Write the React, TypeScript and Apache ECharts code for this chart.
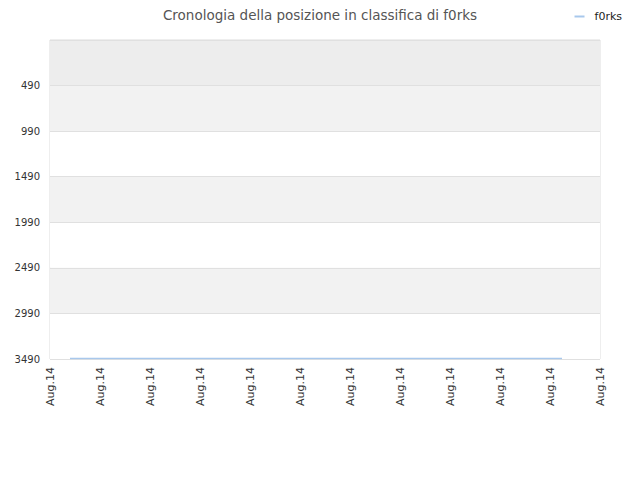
import { useEffect, useRef } from "react";
import * as echarts from "echarts";

const seriesName = "f0rks";
const xTickLabel = "Aug.14";
const xPositions = [0.4, 10.24];
const rankValues = [3485, 3485];
const bandColors = ["#ededed", "#f2f2f2", "#ffffff", "#f2f2f2", "#ffffff", "#f2f2f2", "#ffffff"];

export default function App() {
  const chartRef = useRef<HTMLDivElement>(null);

  useEffect(() => {
    if (!chartRef.current) return;
    const chart = echarts.init(chartRef.current, undefined, { renderer: "svg" });

    const font = "DejaVu Sans, sans-serif";

    chart.setOption({
      animation: false,
      backgroundColor: "#ffffff",
      title: {
        text: "Cronologia della posizione in classifica di f0rks",
        left: "center",
        top: 3,
        textStyle: { fontFamily: font, fontSize: 13.5, fontWeight: "normal", color: "#555" },
      },
      legend: {
        right: 13,
        top: 6,
        itemWidth: 10,
        itemHeight: 2,
        icon: "rect",
        textStyle: { fontFamily: font, fontSize: 11, color: "#222", padding: [0, 0, 0, 5] },
        data: [seriesName],
      },
      grid: {
        left: 50,
        right: 40,
        top: 40,
        bottom: 121,
        show: true,
        borderColor: "#dddddd",
        borderWidth: 1,
        backgroundColor: "transparent",
      },
      xAxis: {
        type: "value",
        min: 0,
        max: 11,
        interval: 1,
        axisLine: { show: false },
        axisTick: { show: false },
        splitLine: { show: false },
        axisLabel: {
          rotate: 90,
          margin: 8,
          fontFamily: font,
          fontSize: 11,
          color: "#333",
          formatter: () => xTickLabel,
        },
      },
      yAxis: {
        type: "value",
        inverse: true,
        min: -10,
        max: 3490,
        interval: 500,
        axisLine: { show: false },
        axisTick: { show: false },
        axisLabel: {
          showMinLabel: false,
          margin: 10,
          fontFamily: font,
          fontSize: 10,
          color: "#333",
          formatter: (v: number) => String(v),
        },
        splitLine: { lineStyle: { color: "#e0e0e0" } },
        splitArea: { show: true, areaStyle: { color: bandColors } },
      },
      series: [
        {
          name: seriesName,
          type: "line",
          data: xPositions.map((x, i) => [x, rankValues[i]]),
          showSymbol: false,
          lineStyle: { color: "#a8c8ec", width: 1.5 },
          itemStyle: { color: "#a8c8ec" },
        },
      ],
    });

    return () => chart.dispose();
  }, []);

  return <div ref={chartRef} style={{ width: 640, height: 480, margin: -8 }} />;
}
